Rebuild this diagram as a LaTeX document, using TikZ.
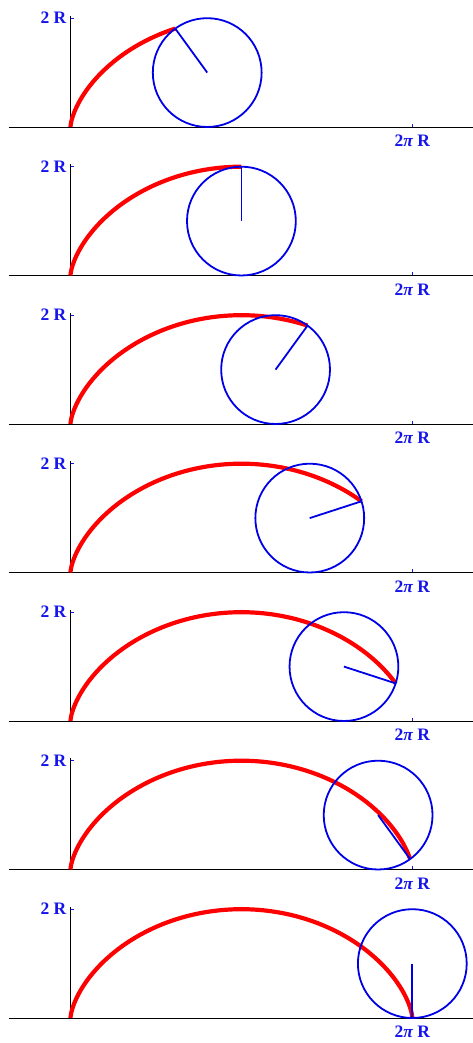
\documentclass[tikz,border=0pt]{standalone}
\usepackage{fontspec}
\setmainfont{Liberation Serif}
\definecolor{lblue}{RGB}{20,20,235}
\definecolor{cblue}{RGB}{0,0,230}
\definecolor{cred}{RGB}{255,0,0}
\tikzset{
  axisline/.style={black, line width=0.9pt},
  tickmark/.style={lblue, line width=1pt},
  lbl/.style={text=lblue, font=\fontsize{17.5}{17.5}\selectfont\bfseries, inner sep=0pt},
  cyc/.style={cred, line width=4.2pt},
  wheel/.style={cblue, line width=1.8pt},
  spoke/.style={cblue, line width=1.8pt},
}
\begin{document}
\begin{tikzpicture}[x=1pt,y=1pt]
\useasboundingbox (0,0) rectangle (473,1043);
\def\R{54.4}
\foreach \k/\t in {0/0.8,1/1.0,2/1.2,3/1.4,4/1.6,5/1.8,6/2.0}{
  \begin{scope}[shift={(70.5,{1043-127-148.5*\k})}]
    \pgfmathsetmacro\T{\t*pi}
    \pgfmathsetmacro\cx{\R*\T}
    \pgfmathsetmacro\px{\R*(\T - sin(\T r))}
    \pgfmathsetmacro\py{\R*(1 - cos(\T r))}
    \coordinate (o\k) at (0,0);
    \coordinate (xl\k) at (-62,0);
    \coordinate (xr\k) at (403,0);
    \coordinate (yt\k) at (0,111);
    \coordinate (c\k) at (\cx,\R);
    \coordinate (p\k) at (\px,\py);
    \draw[axisline] (xl\k) -- (xr\k);
    \draw[axisline] (o\k) -- (yt\k);
    \draw[tickmark] (0,{2*\R}) -- (3,{2*\R});
    \draw[tickmark] ({2*pi*\R},0) -- ({2*pi*\R},3);
    \node[lbl, anchor=east] (ly\k) at (-4,{2*\R}) {2 R};
    \node[lbl, anchor=north] (lx\k) at ({2*pi*\R},-8) {2{\itshape π} R};
    \draw[cyc] plot[domain=0:\T, samples=120, smooth] ({\R*(\x - sin(\x r))},{\R*(1 - cos(\x r))});
    \draw[wheel] (c\k) circle[radius=\R];
    \draw[spoke] (c\k) -- (p\k);
  \end{scope}
}
\end{tikzpicture}
\end{document}
